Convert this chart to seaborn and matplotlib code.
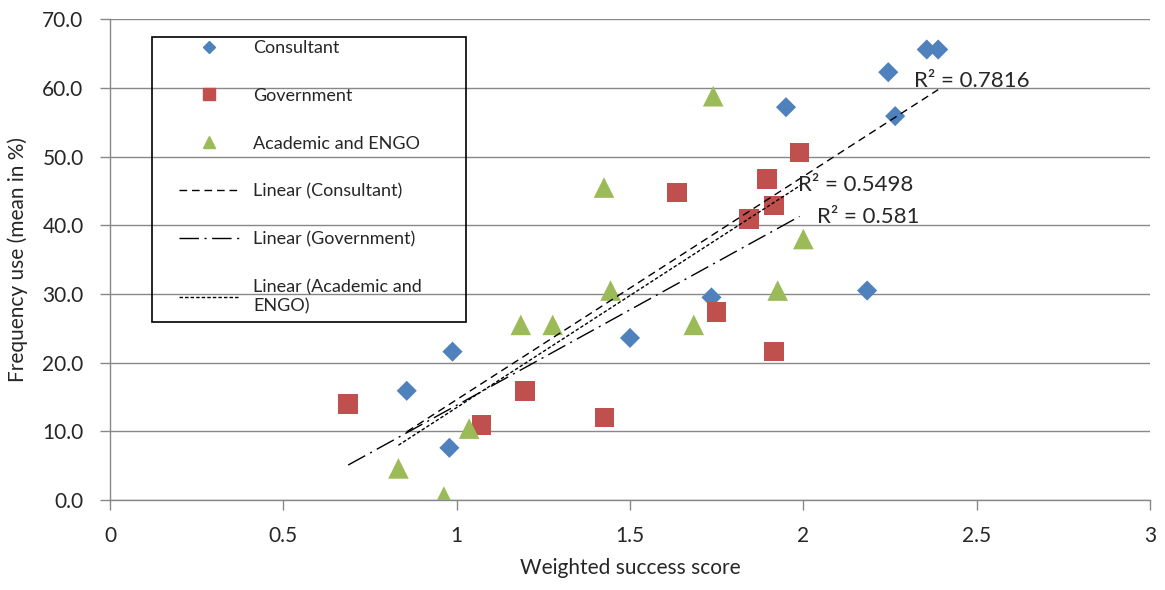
import numpy as np
import pandas as pd
import matplotlib
matplotlib.use("Agg")
import matplotlib.pyplot as plt
from matplotlib.lines import Line2D
from matplotlib.patches import Rectangle
import seaborn as sns

# data
consultant_x = [0.856, 0.988, 0.979, 1.500, 1.950, 2.245, 2.356, 2.389, 2.265, 2.184, 1.735]
consultant_y = [15.9, 21.6, 7.6, 23.6, 57.2, 62.3, 65.6, 65.6, 55.9, 30.5, 29.5]

government_x = [0.687, 1.072, 1.197, 1.426, 1.635, 1.750, 1.844, 1.896, 1.916, 1.916, 1.989]
government_y = [14.0, 10.9, 15.9, 12.0, 44.8, 27.4, 40.9, 46.7, 42.9, 21.6, 50.6]

academic_x = [0.832, 0.963, 1.036, 1.185, 1.277, 1.684, 1.444, 1.926, 2.000, 1.425, 1.740]
academic_y = [4.6, 0.5, 10.4, 25.5, 25.5, 25.5, 30.5, 30.5, 38.0, 45.5, 58.8]

groups = ["Consultant", "Government", "Academic and ENGO"]
r2_labels = ["R\u00b2 = 0.7816", "R\u00b2 = 0.581", "R\u00b2 = 0.5498"]
r2_pos = [(2.319, 61.0), (2.039, 41.2), (1.985, 45.8)]

df = pd.concat([
    pd.DataFrame({"x": consultant_x, "y": consultant_y, "group": "Consultant"}),
    pd.DataFrame({"x": government_x, "y": government_y, "group": "Government"}),
    pd.DataFrame({"x": academic_x, "y": academic_y, "group": "Academic and ENGO"}),
])

colors = {"Consultant": "#4F81BD", "Government": "#C0504D", "Academic and ENGO": "#9BBB59"}
markers = {"Consultant": "D", "Government": "s", "Academic and ENGO": "^"}
msize = {"Consultant": 105, "Government": 200, "Academic and ENGO": 220}
dashes = {"Consultant": (0, (5.5, 3.5)),
          "Government": (0, (14, 4, 1.5, 4)),
          "Academic and ENGO": (0, (2.5, 1.5))}

sns.set_style("white")
plt.rcParams["font.family"] = ["Lato", "DejaVu Sans"]

fig = plt.figure(figsize=(11.65, 5.9), dpi=100)
ax = fig.add_axes([110 / 1165, 1 - 500 / 590, 1040 / 1165, 480.7 / 590])

for g in groups:
    sub = df[df["group"] == g]
    sns.scatterplot(x="x", y="y", data=sub, marker=markers[g], s=msize[g],
                    color=colors[g], edgecolor="none", ax=ax, zorder=3, legend=False)

for g in groups:
    sub = df[df["group"] == g]
    sns.regplot(x="x", y="y", data=sub, scatter=False, ci=None, truncate=True, ax=ax,
                line_kws=dict(color="black", lw=1.0, ls=dashes[g], zorder=4))

for lab, (tx, ty) in zip(r2_labels, r2_pos):
    ax.text(tx, ty, lab, fontsize=16, va="center", ha="left", zorder=5)

ax.set_xlim(0, 3)
ax.set_ylim(0, 70)
ax.set_xticks(np.arange(0, 3.01, 0.5))
ax.set_xticklabels(["0", "0.5", "1", "1.5", "2", "2.5", "3"])
ax.set_yticks(np.arange(0, 70.1, 10))
ax.set_yticklabels([f"{v:.1f}" for v in np.arange(0, 70.1, 10)])
ax.yaxis.grid(True, color="#888888", lw=1.0)
ax.xaxis.grid(False)
ax.set_axisbelow(True)
for s in ["top", "right"]:
    ax.spines[s].set_visible(False)
for s in ["left", "bottom"]:
    ax.spines[s].set_color("#888888")
    ax.spines[s].set_linewidth(1.0)
ax.tick_params(axis="both", which="major", length=7, width=1.0, color="#888888",
               labelsize=15, direction="out", left=True, bottom=True)
ax.tick_params(axis="y", pad=12)
ax.tick_params(axis="x", pad=12)
ax.set_xlabel("Weighted success score", fontsize=15, labelpad=8)
ax.set_ylabel("Frequency use (mean in %)", fontsize=15, labelpad=10)

# legend box
ax.add_patch(Rectangle((42 / 1040, 178 / 480.7), 314 / 1040, 285 / 480.7,
                       transform=ax.transAxes, fill=False, edgecolor="black",
                       lw=1.2, zorder=6, clip_on=False))
handles = [
    Line2D([], [], ls="none", marker="D", ms=6, color=colors["Consultant"]),
    Line2D([], [], ls="none", marker="s", ms=8, color=colors["Government"]),
    Line2D([], [], ls="none", marker="^", ms=8, color=colors["Academic and ENGO"]),
    Line2D([], [], color="black", lw=1.0, ls=dashes["Consultant"]),
    Line2D([], [], color="black", lw=1.0, ls=dashes["Government"]),
    Line2D([], [], color="black", lw=1.0, ls=dashes["Academic and ENGO"]),
]
labels = ["Consultant", "Government", "Academic and ENGO", "Linear (Consultant)",
          "Linear (Government)", "Linear (Academic and\nENGO)"]
leg = ax.legend(handles, labels, loc="upper left", bbox_to_anchor=(69 / 1040, 460 / 480.7),
                frameon=False, fontsize=13, handlelength=3.3, handletextpad=0.8,
                labelspacing=1.76, borderpad=0, borderaxespad=0)
leg.set_zorder(7)

fig.savefig("out.png", dpi=100)
